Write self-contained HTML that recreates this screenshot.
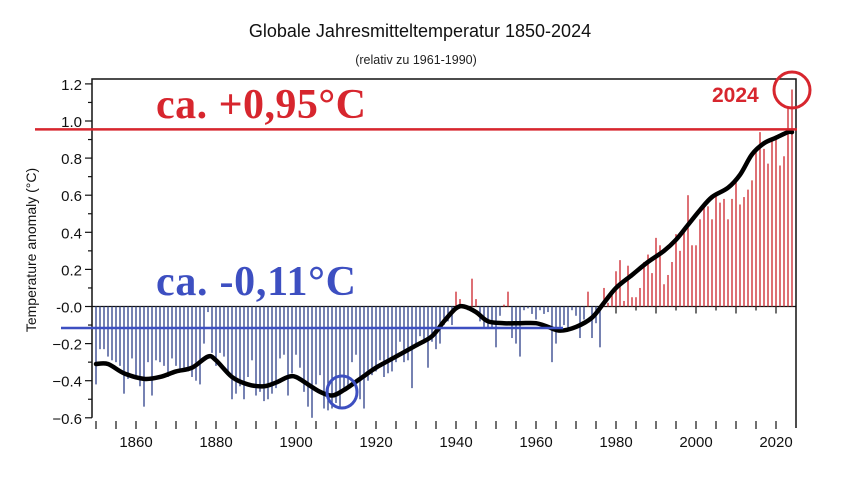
<!DOCTYPE html>
<html><head><meta charset="utf-8"><style>
html,body{margin:0;padding:0;background:#fff;width:849px;height:504px;overflow:hidden}
svg{display:block;font-family:"Liberation Sans",Arial,sans-serif}
.serif{font-family:"Liberation Serif",serif}
</style></head><body>
<svg id="chart" width="849" height="504" viewBox="0 0 849 504">
<text x="420" y="37" text-anchor="middle" font-size="18" fill="#111">Globale Jahresmitteltemperatur 1850-2024</text>
<text x="416" y="64" text-anchor="middle" font-size="12.5" fill="#222">(relativ zu 1961-1990)</text>
<text transform="translate(36,250) rotate(-90)" text-anchor="middle" font-size="14" fill="#111">Temperature anomaly (°C)</text>
<g id="axes"></g>
<g id="bars"></g>
<path id="smooth" fill="none" stroke="#000" stroke-width="4.5" stroke-linejoin="round" stroke-linecap="round"></path>
<line id="redline" stroke="#d7262e" stroke-width="2.5"></line>
<line id="blueline" stroke="#3d4fc1" stroke-width="2.5"></line>
<text class="serif" x="156" y="118" font-weight="bold" font-size="42" textLength="210" fill="#d7262e">ca. +0,95°C</text>
<text class="serif" x="156" y="295" font-weight="bold" font-size="42" textLength="200" fill="#3d4fc1">ca. -0,11°C</text>
<ellipse cx="342" cy="392" rx="15" ry="16" fill="none" stroke="#3d4fc1" stroke-width="3"></ellipse>
<circle cx="792" cy="90" r="18" fill="none" stroke="#d7262e" stroke-width="3"></circle>
<text x="712" y="102" font-weight="bold" font-size="21" fill="#d7262e">2024</text>
</svg>
<script>
const startYear = 1850;
const anomalies = [
-0.42,-0.23,-0.23,-0.27,-0.29,-0.30,-0.32,-0.47,-0.39,-0.28,
-0.39,-0.43,-0.54,-0.30,-0.48,-0.29,-0.30,-0.32,-0.38,-0.28,
-0.32,-0.35,-0.33,-0.35,-0.38,-0.40,-0.42,-0.20,-0.03,-0.25,
-0.32,-0.25,-0.27,-0.35,-0.50,-0.47,-0.43,-0.50,-0.38,-0.29,
-0.48,-0.46,-0.51,-0.50,-0.47,-0.44,-0.28,-0.26,-0.48,-0.36,
-0.26,-0.33,-0.46,-0.54,-0.60,-0.42,-0.37,-0.55,-0.56,-0.55,
-0.52,-0.55,-0.45,-0.44,-0.30,-0.26,-0.50,-0.55,-0.40,-0.37,
-0.35,-0.29,-0.38,-0.36,-0.35,-0.30,-0.19,-0.30,-0.29,-0.44,
-0.21,-0.16,-0.20,-0.33,-0.19,-0.23,-0.20,-0.10,-0.08,-0.10,
0.08,0.04,-0.01,-0.02,0.15,0.04,-0.08,-0.11,-0.12,-0.12,
-0.22,-0.05,0.01,0.08,-0.17,-0.20,-0.27,-0.02,-0.01,-0.04,
-0.07,-0.02,-0.04,-0.03,-0.30,-0.20,-0.11,-0.10,-0.13,-0.02,
-0.05,-0.17,-0.07,0.08,-0.17,-0.09,-0.22,0.10,0.02,0.08,
0.19,0.25,0.03,0.22,0.05,0.05,0.10,0.24,0.28,0.18,
0.37,0.33,0.12,0.17,0.24,0.39,0.30,0.42,0.60,0.33,
0.33,0.47,0.54,0.54,0.47,0.60,0.56,0.58,0.47,0.58,
0.68,0.55,0.59,0.63,0.68,0.85,0.94,0.85,0.77,0.90,
0.91,0.76,0.81,1.08,1.17];
const smoothYears = [1850,1853,1857,1862,1866,1870,1874,1878,1880,1884,1888,1892,1895,1898,1900,1903,1906,1909,1912,1916,1920,1925,1930,1934,1937,1940,1942,1945,1948,1952,1956,1960,1963,1966,1970,1974,1977,1980,1984,1988,1992,1995,1998,2001,2004,2008,2011,2014,2017,2020,2023,2024];
const smoothValues = [-0.31,-0.31,-0.36,-0.39,-0.38,-0.35,-0.33,-0.27,-0.29,-0.38,-0.42,-0.43,-0.41,-0.38,-0.38,-0.42,-0.46,-0.48,-0.45,-0.39,-0.33,-0.27,-0.21,-0.16,-0.08,-0.01,0.00,-0.03,-0.08,-0.09,-0.09,-0.09,-0.11,-0.13,-0.11,-0.06,0.02,0.10,0.17,0.24,0.30,0.36,0.44,0.52,0.59,0.64,0.71,0.82,0.88,0.91,0.94,0.94];
const yTicks = [1.2,1.0,0.8,0.6,0.4,0.2,0.0,-0.2,-0.4,-0.6];
const yTickLabels = ["1.2","1.0","0.8","0.6","0.4","0.2","-0.0","−0.2","−0.4","−0.6"];
const xTickLabels = [1860,1880,1900,1920,1940,1960,1980,2000,2020];
const recentLevel = 0.955, earlyLevel = -0.116;

const NS = "http://www.w3.org/2000/svg";
const X = y => 96 + (y - 1850) * 4;
const Y = v => 306.5 - v * 185.5;
function mk(tag, attrs, parent){const e=document.createElementNS(NS,tag);for(const k in attrs)e.setAttribute(k,attrs[k]);parent.appendChild(e);return e;}
const axes = document.getElementById('axes');
const bars = document.getElementById('bars');
let e;
e = mk('path',{d:`M92 ${Y(-0.6)} V79 H796 V428`,fill:'none',stroke:'#111','stroke-width':1.5},axes);


e = mk('line',{x1:92,x2:796,y1:Y(0),y2:Y(0),stroke:'#111','stroke-width':1.2},axes);


for(let v=-0.6; v<=1.21; v+=0.1){
  const major = Math.abs(Math.round(v*10)%2)===0;
  mk('line',{x1:major?85:88,x2:92,y1:Y(v),y2:Y(v),stroke:'#111','stroke-width':1.2},axes);
}
yTicks.forEach((v,i)=>{
  const t = mk('text',{x:82,y:Y(v)+6,'text-anchor':'end','font-size':15,fill:'#111'},axes);
  t.textContent = yTickLabels[i];
  
  
});
for(let yr=1850; yr<=2020; yr+=5){
  mk('line',{x1:X(yr),x2:X(yr),y1:421,y2:429,stroke:'#111','stroke-width':1.2},axes);
  if(yr>=1980) mk('line',{x1:X(yr),x2:X(yr),y1:Y(0),y2:Y(0)+(yr%10===0?7:4),stroke:'#111','stroke-width':1.2},axes);
}
xTickLabels.forEach(yr=>{
  const t = mk('text',{x:X(yr),y:447,'text-anchor':'middle','font-size':15,fill:'#111'},axes);
  t.textContent = yr;
  
  
});
anomalies.forEach((v,i)=>{
  const yr = startYear + i;
  const b = mk('line',{x1:X(yr),x2:X(yr),y1:Y(0),y2:Y(v),stroke:v<0?'#3b4d92':'#d0343a','stroke-width':1.4},bars);
  
  
});
const pts = smoothYears.map((y,i)=>[X(y),Y(smoothValues[i])]);
let d = `M${pts[0][0]} ${pts[0][1]}`;
for(let i=0;i<pts.length-1;i++){
  const p0=pts[Math.max(0,i-1)],p1=pts[i],p2=pts[i+1],p3=pts[Math.min(pts.length-1,i+2)];
  const c1=[p1[0]+(p2[0]-p0[0])/6,p1[1]+(p2[1]-p0[1])/6];
  const c2=[p2[0]-(p3[0]-p1[0])/6,p2[1]-(p3[1]-p1[1])/6];
  d+=` C${c1[0]} ${c1[1]} ${c2[0]} ${c2[1]} ${p2[0]} ${p2[1]}`;
}
document.getElementById('smooth').setAttribute('d',d);
const rl = document.getElementById('redline');
rl.setAttribute('x1',35);rl.setAttribute('x2',797);rl.setAttribute('y1',Y(recentLevel));rl.setAttribute('y2',Y(recentLevel));
const bl = document.getElementById('blueline');
bl.setAttribute('x1',61);bl.setAttribute('x2',563);bl.setAttribute('y1',Y(earlyLevel));bl.setAttribute('y2',Y(earlyLevel));
</script>
</body></html>
